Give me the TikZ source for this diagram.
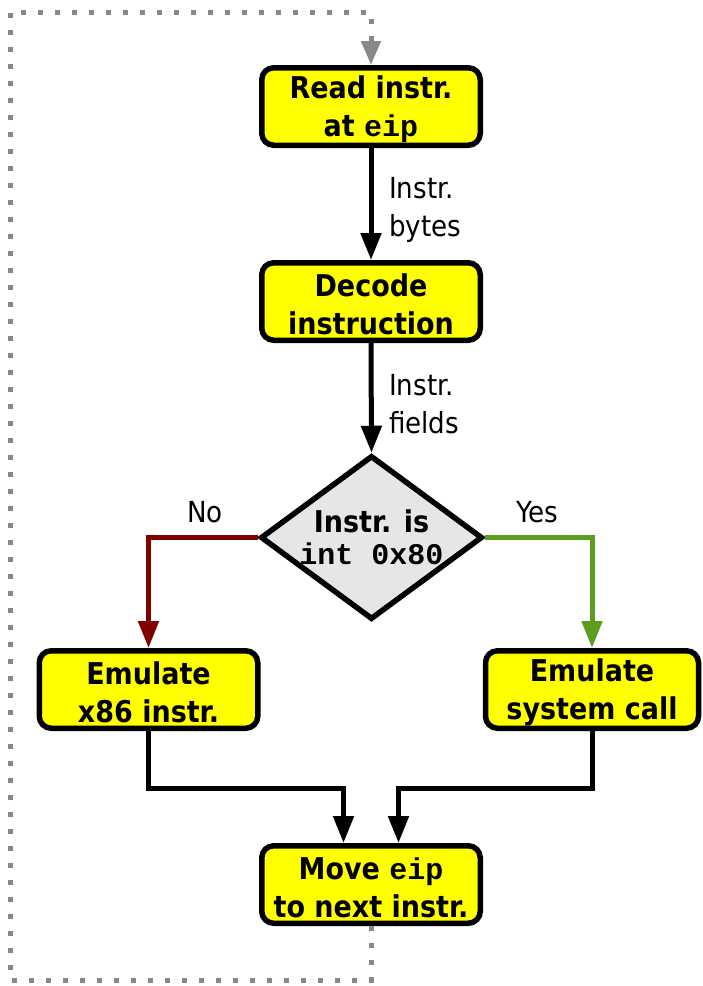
\documentclass[tikz,border=0pt]{standalone}
\usepackage{fontspec}
\setmainfont{DejaVu Sans Condensed}
\setmonofont{Liberation Mono}
\usetikzlibrary{arrows.meta,shapes.geometric}
\definecolor{boxyellow}{HTML}{FFFF00}
\definecolor{diamondgray}{HTML}{E6E6E6}
\definecolor{nored}{HTML}{800000}
\definecolor{yesgreen}{HTML}{5B9E1F}
\definecolor{loopgray}{HTML}{888888}
\newcommand\mcode[1]{{\ttfamily\bfseries\fontsize{30}{38}\selectfont #1}}
\tikzset{
  stepbox/.style={draw=black, fill=boxyellow, line width=5.5pt, rounded corners=12pt,
    minimum width=218.5pt, minimum height=77.5pt, inner sep=0pt, align=center,
    text height=66.5pt, font=\bfseries\fontsize{30}{38}\selectfont},
  decision/.style={diamond, draw=black, fill=diamondgray, line width=5.5pt,
    minimum width=222pt, minimum height=164pt, inner sep=0pt},
  lbl/.style={align=left, inner sep=0pt, font=\fontsize{29}{38}\selectfont},
  flow/.style={line width=5pt, -{Triangle[length=27pt,width=20pt]}},
  feedback/.style={line width=5pt, draw=loopgray, dash pattern=on 5pt off 12pt,
    -{Triangle[length=24pt,width=19pt]}}
}
\begin{document}
\begin{tikzpicture}[x=1pt,y=-1pt]
\useasboundingbox (0,0) rectangle (702,986);

% process steps
\node[stepbox] (read) at (371,106.5) {Read instr.\\at \mcode{eip}};
\node[stepbox] (decode) at (371,301.5) {Decode\\instruction};
\node[decision] (test) at (371.5,537.5) {};
\node[align=center, inner sep=0pt, font=\bfseries\fontsize{30}{32}\selectfont] (testtext)
  at (371.5,537) {Instr. is\\\mcode{int 0x80}};
\node[stepbox] (emx) at (148.5,689.5) {Emulate\\x86 instr.};
\node[stepbox, minimum width=213pt] (emsys) at (592,689.5) {Emulate\\system call};
\node[stepbox] (move) at (371,884.5) {Move \mcode{eip}\\to next instr.};

% main flow
\draw[flow] (read.south) -- (decode.north);
\node[lbl, anchor=west] (lbytes) at (389,210) {Instr.\\bytes};
\draw[flow] (decode.south) -- (test.north);
\node[lbl, anchor=west] (lfields) at (389,404) {Instr.\\fields};

% branches
\draw[flow, draw=nored, -{Triangle[length=27pt,width=20pt,fill=nored]}] (test.west) -| (emx.north);
\node[lbl] (lno) at (205,512) {No};
\draw[flow, draw=yesgreen, -{Triangle[length=27pt,width=20pt,fill=yesgreen]}] (test.east) -| (emsys.north);
\node[lbl] (lyes) at (537,512) {Yes};

% merge
\draw[flow] (emx.south) |- ([xshift=-27.5pt,yshift=55pt]move.north) -- ([xshift=-27.5pt]move.north);
\draw[flow] (emsys.south) |- ([xshift=27.5pt,yshift=55pt]move.north) -- ([xshift=27.5pt]move.north);

% loop back to the next instruction
\coordinate (lowleft) at (10,980);
\coordinate (upleft) at (10,12);
\draw[feedback] (move.south) |- (lowleft) -- (upleft) -| (read.north);
\end{tikzpicture}
\end{document}
